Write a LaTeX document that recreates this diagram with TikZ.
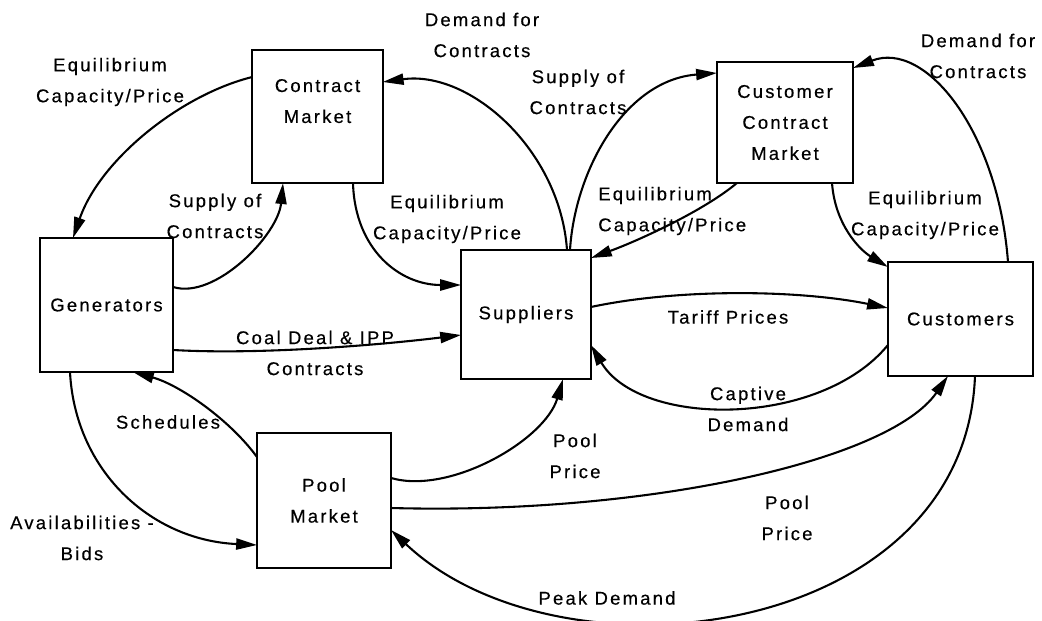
\documentclass[tikz,border=0pt]{standalone}
\usepackage{fontspec}
\setmainfont{Liberation Sans}[LetterSpace=12, FakeBold=0.4]
\usetikzlibrary{arrows.meta}

\begin{document}
\begin{tikzpicture}[
    x=0.72pt, y=-0.72pt,
    font=\fontsize{13.3}{22.3}\selectfont,
    box/.style={rectangle, draw, line width=1.5pt, inner sep=0pt, outer sep=0pt, align=center},
    flow/.style={line width=1.5pt, -{Triangle[length=15pt, width=8pt]}},
    flowlbl/.style={align=center, inner sep=0pt}
]
\useasboundingbox (0,0) rectangle (1042,621);

% === MARKET PARTICIPANTS ===
\node[box, minimum width=94pt, minimum height=96pt] (contract) at (317.5,116.5) {Contract\\Market\\~};
\node[box, minimum width=98pt, minimum height=87pt] (custcontract) at (785,122.5) {Customer\\Contract\\Market};
\node[box, minimum width=96pt, minimum height=96.5pt] (gen) at (106.5,305) {Generators};
\node[box, minimum width=93.5pt, minimum height=93pt] (supp) at (526,314.5) {Suppliers};
\node[box, minimum width=104.5pt, minimum height=82pt] (cust) at (960.5,319) {Customers};
\node[box, minimum width=96.5pt, minimum height=97pt] (pool) at (324,500.5) {Pool\\Market};

% === CONTRACT MARKET FLOWS ===
\draw[flow] (contract.west |- 0,77) .. controls (180,95) and (100,160) .. (gen.north -| 73,0);
\draw[flow] (gen.east |- 0,287) .. controls (215,300) and (278,235) .. (contract.south -| 283,0);
\draw[flow] (contract.south -| 353,0) .. controls (355,250) and (400,285) .. (supp.west |- 0,285);
\draw[flow] (supp.north -| 567,0) .. controls (560,150) and (470,70) .. (contract.east |- 0,82);

\node[flowlbl] (lbleqgen) at (110,82) {Equilibrium\\Capacity/Price};
\node[flowlbl] (lblsupgen) at (215,216) {Supply of\\Contracts};
\node[flowlbl] (lbleqsupp) at (447,219) {Equilibrium\\Capacity/Price};
\node[flowlbl] (lbldemsupp) at (482,35) {Demand for\\Contracts};

% === CUSTOMER CONTRACT MARKET FLOWS ===
\draw[flow] (supp.north -| 570,0) .. controls (575,170) and (625,80) .. (custcontract.west |- 0,73);
\draw[flow] (custcontract.south -| 737,0) .. controls (705,210) and (640,240) .. (supp.east |- 0,258);
\draw[flow] (custcontract.south -| 832,0) .. controls (835,225) and (860,250) .. (cust.west |- 0,267);
\draw[flow] (cust.north -| 1008,0) .. controls (998,130) and (925,40) .. (custcontract.east |- 0,68);

\node[flowlbl] (lblsupsupp) at (578,92) {Supply of\\Contracts};
\node[flowlbl, align=left, anchor=west] (lbleqsupp2) at (598,211) {Equilibrium\\Capacity/Price};
\node[flowlbl] (lbleqcust) at (925,215) {Equilibrium\\Capacity/Price};
\node[flowlbl] (lbldemcust) at (978,56) {Demand for\\Contracts};

% === DIRECT FLOWS ===
\draw[flow] (supp.east |- 0,307) .. controls (680,288) and (800,290) .. (cust.west |- 0,308);
\draw[flow] (cust.west |- 0,345) .. controls (820,428) and (640,428) .. (supp.east |- 0,345);
\draw[flow] (gen.east |- 0,350) .. controls (260,355) and (380,345) .. (supp.west |- 0,335);

\node[flowlbl] (lbltariff) at (728,317) {Tariff Prices};
\node[flowlbl] (lblcaptive) at (748,409) {Captive\\Demand};
\node[flowlbl] (lblcoal) at (315,353) {Coal Deal \& IPP\\Contracts};

% === POOL FLOWS ===
\draw[flow] (pool.west |- 0,457) .. controls (230,420) and (180,385) .. (gen.south -| 133,0);
\draw[flow] (gen.south -| 70,0) .. controls (75,470) and (150,540) .. (pool.west |- 0,545);
\draw[flow] (pool.east |- 0,478) .. controls (450,495) and (545,440) .. (supp.south -| 563,0);
\draw[flow] (pool.east |- 0,508) .. controls (650,515) and (890,460) .. (cust.south -| 948,0);
\draw[flow] (cust.south -| 975,0) .. controls (965,640) and (560,690) .. (pool.east |- 0,530);

\node[flowlbl] (lblsched) at (168,422) {Schedules};
\node[flowlbl] (lblavail) at (82,538) {Availabilities -\\Bids};
\node[flowlbl] (lblpoolsupp) at (575,456) {Pool\\Price};
\node[flowlbl] (lblpoolcust) at (787,518) {Pool\\Price};
\node[flowlbl] (lblpeak) at (607,598) {Peak Demand};

\end{tikzpicture}
\end{document}
